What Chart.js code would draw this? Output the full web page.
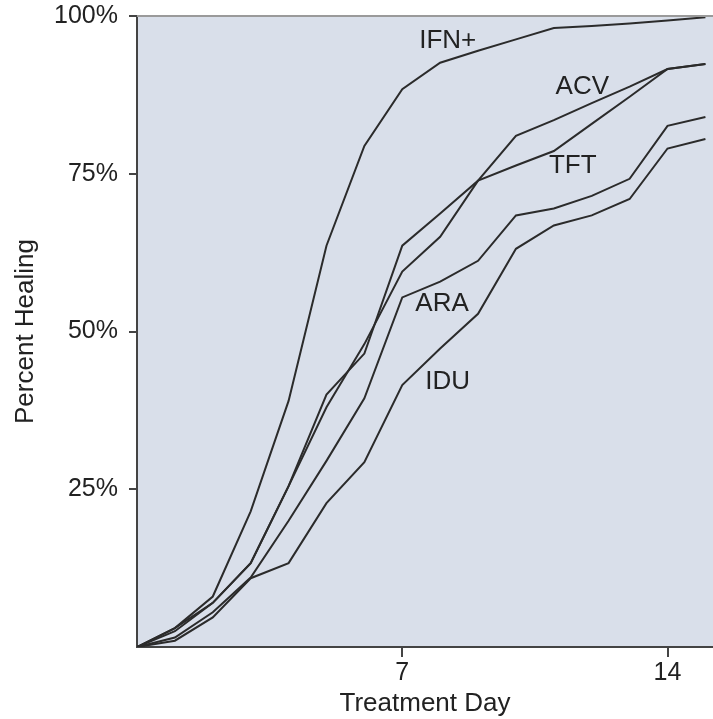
<!DOCTYPE html>
<html>
<head>
<meta charset="utf-8">
<title>Percent Healing by Treatment Day</title>
<script src="https://cdn.jsdelivr.net/npm/chart.js@4.4.0/dist/chart.umd.min.js"></script>
<style>
  html, body { margin: 0; padding: 0; background: #ffffff; }
  #wrap { width: 713px; height: 719px; }
</style>
</head>
<body>
<div id="wrap"><canvas id="healing-chart" width="713" height="719"></canvas></div>
<script>
/*
Data
*/
const days = [0, 1, 2, 3, 4, 5, 6, 7, 8, 9, 10, 11, 12, 13, 14, 15];

const ifnPlus = [0, 3, 8, 21.5, 39, 63.6, 79.4, 88.4, 92.6, 94.5, 96.3, 98.1, 98.4, 98.8, 99.3, 99.8];
const acv     = [0, 2.5, 7, 13.3, 25.5, 38, 48, 59.5, 65, 73.9, 81, 83.5, 86.2, 88.8, 91.6, 92.4];
const tft     = [0, 3, 7, 13.3, 25.5, 40, 46.5, 63.6, 68.7, 73.9, 76.3, 78.6, 82.9, 87.2, 91.6, 92.4];
const ara     = [0, 1.5, 5.5, 11, 20, 29.5, 39.4, 55.4, 57.9, 61.2, 68.4, 69.5, 71.5, 74.2, 82.6, 84];
const idu     = [0, 1, 4.7, 10.9, 13.3, 22.8, 29.3, 41.5, 47.3, 52.8, 63.1, 66.8, 68.4, 71, 79, 80.5];

const seriesNames = ["IFN+", "ACV", "TFT", "ARA", "IDU"];
const seriesValues = [ifnPlus, acv, tft, ara, idu];

// where each curve's name sits, in data units (day, percent)
const labelDays = [8.2, 11.75, 11.5, 8.05, 8.2];
const labelPercents = [96, 88.8, 76.3, 54.4, 42.1];

const xTickValues = [7, 14];
const yTickValues = [25, 50, 75, 100];

/*
Styling
*/
const FONT = "'Liberation Sans', Arial, Helvetica, sans-serif";
const TEXT_COLOR = "#222222";
const LINE_COLOR = "#2b2b2b";
const PLOT_BG = "#d9dfea";

const plotDecor = {
    id: "plotDecor",
    beforeDraw(chart) {
        const { ctx, chartArea } = chart;
        ctx.save();
        ctx.fillStyle = PLOT_BG;
        ctx.fillRect(chartArea.left, chartArea.top, chartArea.right - chartArea.left, chartArea.bottom - chartArea.top);
        ctx.restore();
    },
    afterDatasetsDraw(chart) {
        const { ctx, chartArea, scales } = chart;
        ctx.save();
        // top frame line
        ctx.strokeStyle = "#9a9a9a";
        ctx.lineWidth = 2;
        ctx.beginPath();
        ctx.moveTo(chartArea.left, chartArea.top);
        ctx.lineTo(chartArea.right, chartArea.top);
        ctx.stroke();
        // curve names
        ctx.fillStyle = TEXT_COLOR;
        ctx.font = "26px " + FONT;
        ctx.textAlign = "center";
        ctx.textBaseline = "middle";
        seriesNames.forEach((name, i) => {
            const x = scales.x.getPixelForValue(labelDays[i]);
            const y = scales.y.getPixelForValue(labelPercents[i]);
            ctx.fillText(name, x, y);
        });
        ctx.restore();
    }
};

const datasets = seriesNames.map((name, i) => ({
    label: name,
    data: days.map((d, j) => ({ x: d, y: seriesValues[i][j] })),
    borderColor: LINE_COLOR,
    borderWidth: 2,
    pointRadius: 0,
    tension: 0,
    fill: false
}));

const ctx = document.getElementById("healing-chart").getContext("2d");
const chart = new Chart(ctx, {
    type: "line",
    data: { datasets: datasets },
    options: {
        responsive: false,
        animation: false,
        devicePixelRatio: 1,
        layout: { padding: { top: 16, right: 0, bottom: 0, left: 0 } },
        plugins: {
            legend: { display: false },
            tooltip: { enabled: false }
        },
        scales: {
            x: {
                type: "linear",
                min: 0,
                max: 15.2,
                afterFit: (scale) => {
                    scale.height = 72;
                    scale.paddingLeft = 0;
                    scale.paddingRight = 0;
                },
                afterBuildTicks: (scale) => { scale.ticks = xTickValues.map(v => ({ value: v })); },
                grid: { drawOnChartArea: false, drawTicks: true, tickLength: 10, color: "#444444", lineWidth: 2 },
                border: { display: true, color: "#444444", width: 2 },
                ticks: {
                    color: TEXT_COLOR,
                    font: { family: FONT, size: 25 },
                    padding: 1,
                    maxRotation: 0
                },
                title: {
                    display: true,
                    text: "Treatment Day",
                    color: TEXT_COLOR,
                    font: { family: FONT, size: 26 },
                    padding: { top: 0, bottom: 0 }
                }
            },
            y: {
                type: "linear",
                min: 0,
                max: 100,
                afterFit: (scale) => {
                    scale.width = 137;
                    scale.paddingTop = 0;
                    scale.paddingBottom = 0;
                },
                afterBuildTicks: (scale) => { scale.ticks = yTickValues.map(v => ({ value: v })); },
                grid: { drawOnChartArea: false, drawTicks: true, tickLength: 8, color: "#444444", lineWidth: 2 },
                border: { display: true, color: "#444444", width: 2 },
                ticks: {
                    color: TEXT_COLOR,
                    font: { family: FONT, size: 25 },
                    padding: 11,
                    callback: (v) => v + "%"
                },
                title: {
                    display: true,
                    text: "Percent Healing",
                    color: TEXT_COLOR,
                    font: { family: FONT, size: 26 },
                    padding: { top: 10, bottom: 0 }
                }
            }
        }
    },
    plugins: [plotDecor]
});
</script>
</body>
</html>
